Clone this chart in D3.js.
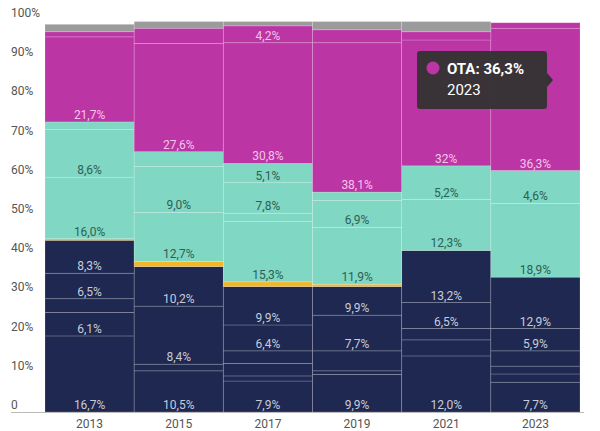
<!DOCTYPE html>
<html>
<head>
<meta charset="utf-8">
<script src="https://cdn.jsdelivr.net/npm/d3@7"></script>
<style>
  body { margin: 0; background: #fff; font-family: Roboto, "Noto Sans", sans-serif; }
</style>
</head>
<body>
<div id="chart"></div>
<script>
// years on the x axis
const years = ["2013", "2015", "2017", "2019", "2021", "2023"];

// stack segments, bottom to top
const segments = ["n1", "n2", "n3", "n4", "n5", "n6", "orange", "t1", "t2", "t3", "t4", "ota", "m2", "other"];

// segment values per year (%)
const values = {
  n1:     [19.4, 10.5, 7.9, 9.6, 14.3, 7.6],
  n2:     [6.0, 1.7, 1.3, 0.9, 4.1, 2.1],
  n3:     [3.5, 14.8, 3.2, 5.1, 2.9, 2.0],
  n4:     [6.5, 10.1, 3.2, 9.1, 6.6, 3.9],
  n5:     [8.4, 0, 6.6, 7.3, 13.3, 5.7],
  n6:     [0, 0, 9.8, 0, 0, 13.1],
  orange: [0.4, 1.3, 1.2, 0.6, 0, 0],
  t1:     [15.7, 12.5, 15.4, 14.5, 13.0, 18.8],
  t2:     [12.2, 11.7, 2.1, 6.9, 8.6, 8.4],
  t3:     [1.9, 3.8, 7.8, 2.1, 0, 0],
  t4:     [0, 0, 4.9, 0, 0, 0],
  ota:    [21.7, 27.6, 30.8, 38.1, 32.1, 36.3],
  m2:     [1.3, 3.9, 4.3, 3.3, 2.1, 1.4],
  other:  [1.9, 1.7, 1.1, 2.1, 2.6, 0]
};

// labels shown inside segments
const labels = {
  n1:  ["16,7%", "10,5%", "7,9%", "9,9%", "12,0%", "7,7%"],
  n2:  ["6,1%", "", "", "", "", ""],
  n3:  ["", "8,4%", "", "", "", ""],
  n4:  ["6,5%", "10,2%", "", "7,7%", "6,5%", ""],
  n5:  ["8,3%", "", "6,4%", "9,9%", "13,2%", "5,9%"],
  n6:  ["", "", "9,9%", "", "", "12,9%"],
  t1:  ["16,0%", "12,7%", "15,3%", "11,9%", "12,3%", "18,9%"],
  t2:  ["8,6%", "9,0%", "", "6,9%", "5,2%", "4,6%"],
  t3:  ["", "", "7,8%", "", "", ""],
  t4:  ["", "", "5,1%", "", "", ""],
  ota: ["21,7%", "27,6%", "30,8%", "38,1%", "32%", "36,3%"],
  m2:  ["", "", "4,2%", "", "", ""]
};

const yTicks = [0, 10, 20, 30, 40, 50, 60, 70, 80, 90, 100];

const colors = {
  n1: "#1e2851", n2: "#1e2851", n3: "#1e2851", n4: "#1e2851", n5: "#1e2851", n6: "#1e2851",
  orange: "#f2b629",
  t1: "#80d7c3", t2: "#80d7c3", t3: "#80d7c3", t4: "#80d7c3",
  ota: "#bc35a4", m2: "#bc35a4", other: "#9b9b9b"
};
const labelColors = { navy: "#c9ccd8", teal: "#2e5f55", mag: "#f5c4ea" };

const width = 600, height = 431;
const margin = { top: 20, right: 20, bottom: 19, left: 45 };

const svg = d3.select("#chart").append("svg")
  .attr("width", width).attr("height", height);

const x = d3.scaleBand().domain(years)
  .range([margin.left, width - margin.right]).padding(0);
const y = d3.scaleLinear().domain([0, 100])
  .range([height - margin.bottom, margin.top]);

const rows = years.map((yr, i) => {
  let r = { year: yr };
  segments.forEach(s => r[s] = values[s][i]);
  return r;
});
const stack = d3.stack().keys(segments)(rows);

const g = svg.append("g");
stack.forEach(layer => {
  g.selectAll(null).data(layer).enter().append("rect")
    .attr("x", d => x(d.data.year))
    .attr("width", x.bandwidth())
    .attr("y", d => y(d[1]))
    .attr("height", d => Math.max(0, y(d[0]) - y(d[1])))
    .attr("fill", colors[layer.key])
    .attr("stroke", d => d[1] - d[0] > 0 ? "rgba(255,255,255,0.22)" : "none")
    .attr("stroke-width", 0.8);
});

// labels at bottom of each segment
stack.forEach(layer => {
  if (!labels[layer.key]) return;
  let k = layer.key;
  let col = k[0] === "n" ? labelColors.navy : k[0] === "t" ? labelColors.teal : labelColors.mag;
  g.selectAll(null).data(layer).enter().append("text")
    .filter((d, i) => labels[k][i] !== "")
    .attr("x", d => x(d.data.year) + x.bandwidth() / 2)
    .attr("y", d => y(d[0]) - 3)
    .attr("text-anchor", "middle")
    .attr("font-size", 12)
    .attr("fill", col)
    .text((d, i) => labels[k][years.indexOf(d.data.year)]);
});

// y axis labels
svg.selectAll(".ytick").data(yTicks).enter().append("text")
  .attr("x", 11)
  .attr("y", d => y(d) - 3)
  .attr("font-size", 12)
  .attr("fill", "#555")
  .text(d => d === 0 ? "0" : d + "%");

// x axis
svg.append("line")
  .attr("x1", 11).attr("x2", width - margin.right + 4)
  .attr("y1", y(0) + 0.5).attr("y2", y(0) + 0.5)
  .attr("stroke", "#bbb");
svg.selectAll(".xtick").data(years).enter().append("text")
  .attr("x", d => x(d) + x.bandwidth() / 2)
  .attr("y", height - 3)
  .attr("text-anchor", "middle")
  .attr("font-size", 12)
  .attr("fill", "#555")
  .text(d => d);

// tooltip on OTA 2023
const tip = svg.append("g").attr("transform", "translate(417,51)");
tip.append("rect").attr("width", 130).attr("height", 58).attr("rx", 3)
  .attr("fill", "#333").attr("fill-opacity", 0.96);
tip.append("path").attr("d", "M130,22 L136,29 L130,36 Z").attr("fill", "#333");
tip.append("circle").attr("cx", 16).attr("cy", 17).attr("r", 6.5).attr("fill", colors.ota);
tip.append("text").attr("x", 30).attr("y", 23).attr("fill", "#fff")
  .attr("font-size", 15).attr("font-weight", "bold").text("OTA: 36,3%");
tip.append("text").attr("x", 30).attr("y", 44).attr("fill", "#fff")
  .attr("font-size", 15).text("2023");
</script>
</body>
</html>
